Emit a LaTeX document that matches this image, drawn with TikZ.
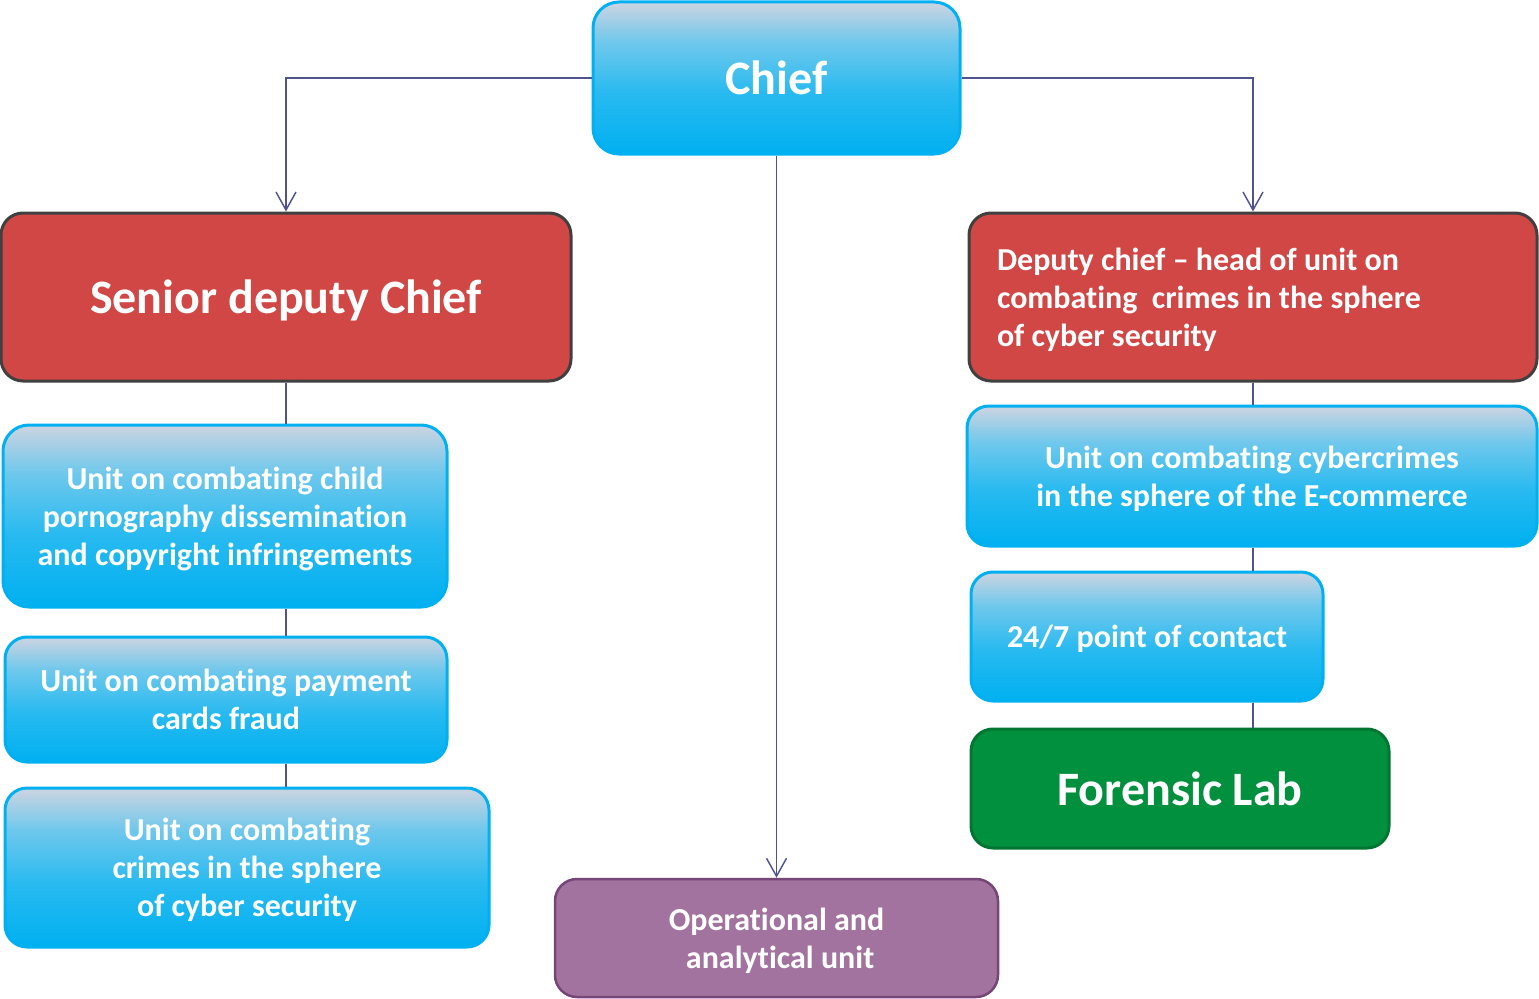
\documentclass[tikz,border=0pt]{standalone}
\usepackage{fontspec}
\setmainfont{Carlito}[Ligatures={TeX,NoCommon}]
\usetikzlibrary{arrows.meta}
\definecolor{linkblue}{RGB}{79,84,145}
\definecolor{cyanedge}{RGB}{0,176,240}
\definecolor{redfill}{RGB}{208,71,70}
\definecolor{rededge}{RGB}{64,64,64}
\definecolor{greenfill}{RGB}{0,144,62}
\definecolor{greenedge}{RGB}{0,118,50}
\definecolor{purplefill}{RGB}{162,115,158}
\definecolor{purpleedge}{RGB}{118,70,118}
% light-to-cyan vertical gradient for the unit boxes
\pgfdeclareverticalshading{unitgrad}{100bp}{%
  color(0bp)=(cyanedge); color(25bp)=(cyanedge);
  color(45bp)=(rgb,255:red,40;green,186;blue,240);
  color(62bp)=(rgb,255:red,112;green,200;blue,236);
  color(75bp)=(rgb,255:red,205;green,212;blue,225);
  color(100bp)=(rgb,255:red,205;green,212;blue,225)}
\def\pxl{0.75pt}
% line-box strut: same ascent/descent on every text block
\def\linestrut{\vrule width 0pt height 0.95em depth 0.25em\relax}
% fixed word spaces of the font's own width inside aligned node text
\def\fontspaces{\spaceskip=\fontdimen2\font\relax\xspaceskip=\fontdimen2\font\relax}
% keep lines exactly one baselineskip apart
\setlength\lineskiplimit{-100pt}
\setlength\normallineskiplimit{-100pt}
\tikzset{
  box/.style={rounded corners=22*\pxl, line width=3*\pxl, text=white,
    font=\bfseries\fontsize{24}{28.5}\selectfont,
    align=center, inner sep=0pt,
    execute at begin node=\fontspaces\linestrut, execute at end node=\linestrut},
  unitbox/.style={box, draw=cyanedge, shading=unitgrad},
  chiefbox/.style={box, draw=rededge, fill=redfill},
  labbox/.style={box, draw=greenedge, fill=greenfill},
  opbox/.style={box, draw=purpleedge, fill=purplefill, line width=2.5*\pxl},
  bigtext/.style={font=\bfseries\fontsize{36}{42}\selectfont},
  link/.style={draw=linkblue, line width=1.5*\pxl},
  arrowlink/.style={link, -{Straight Barb[length=13.5pt,width=15pt,line width=1.1pt]}},
  sized/.style 2 args={text width=#1*\pxl, minimum height=#2*\pxl}
}
\begin{document}
\begin{tikzpicture}[x=0.75pt, y=-0.75pt]
\useasboundingbox (0,0) rectangle (1539,999);

% top level
\node[unitbox, bigtext, sized={367}{152}, rounded corners=26*\pxl] (chief) at (776.5,78) {Chief};

% left branch
\node[chiefbox, bigtext, sized={570}{168}] (senior) at (286,297) {Senior deputy Chief};
\node[unitbox, sized={444}{182}, rounded corners=26*\pxl] (child) at (225,516)
  {Unit on combating child\\pornography dissemination\\and copyright infringements};
\node[unitbox, sized={442}{125}] (cards) at (226,699.5)
  {Unit on combating payment\\cards fraud};
\node[unitbox, sized={484}{159}] (cyberL) at (247,867.5)
  {Unit on combating\\crimes in the sphere\\of cyber security};

% right branch
\node[chiefbox, align=left, text width=512*\pxl, inner xsep=28*\pxl,
  minimum height=168*\pxl]
  (deputy) at (1253,297)
  {Deputy chief \textendash{} head of unit on\\combating\ \ crimes in the sphere\\of cyber security};
\node[unitbox, sized={570}{140}] (ecom) at (1252,476)
  {Unit on combating cybercrimes\\in the sphere of the E-commerce};
\node[unitbox, sized={352}{129}] (contact) at (1147,636.5) {24/7 point of contact};
\node[labbox, bigtext, sized={418}{119}] (lab) at (1180,788.5) {Forensic Lab};

% centre branch
\node[opbox, sized={443}{118}] (oper) at (776.5,938)
  {Operational and\\\ analytical unit};

% connectors
\draw[arrowlink] (chief.west) -| (senior.north);
\draw[arrowlink] (chief.east) -| (deputy.north);
\draw[arrowlink] (chief.south) -- (oper.north);
\draw[link] (senior.south) -- (senior.south |- child.north);
\draw[link] (senior.south |- child.south) -- (senior.south |- cards.north);
\draw[link] (senior.south |- cards.south) -- (senior.south |- cyberL.north);
\draw[link] (deputy.south) -- (deputy.south |- ecom.north);
\draw[link] (deputy.south |- ecom.south) -- (deputy.south |- contact.north);
\draw[link] (deputy.south |- contact.south) -- (deputy.south |- lab.north);
\end{tikzpicture}
\end{document}
